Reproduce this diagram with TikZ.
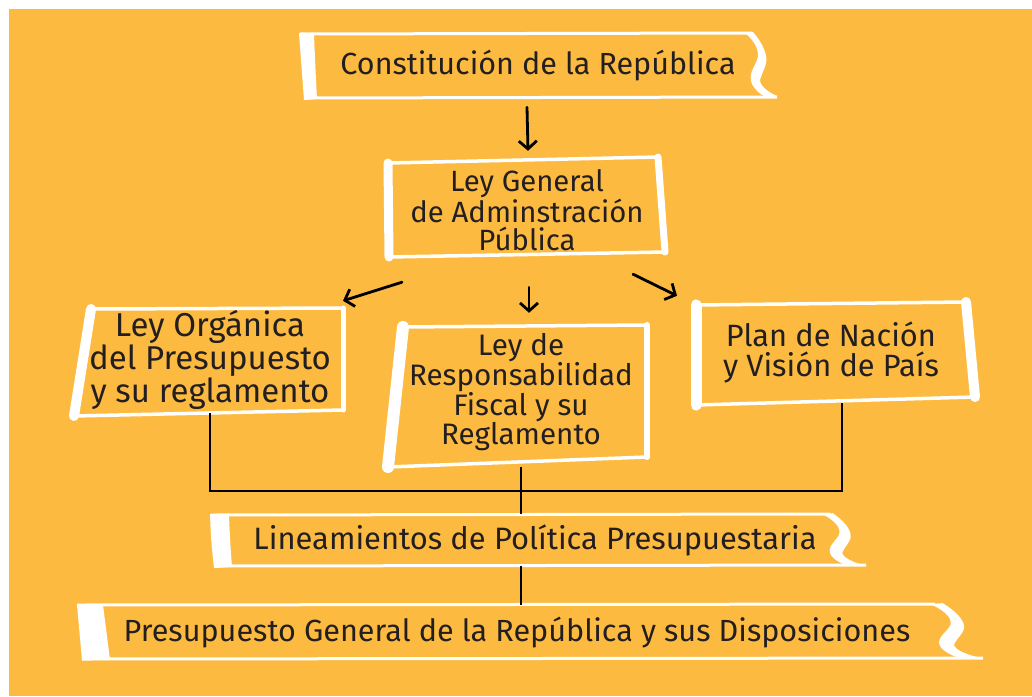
\documentclass[tikz,border=0pt]{standalone}
\usepackage{fontspec}
\setmainfont{Fira Sans}
\usetikzlibrary{shapes,arrows.meta,positioning}
\definecolor{paper}{RGB}{253,186,65}
\definecolor{ink}{RGB}{35,31,32}

\begin{document}
\begin{tikzpicture}[x=1pt,y=-1pt,
  law/.style={text=ink, align=center, inner sep=0pt, font=\fontsize{30.5}{30}\selectfont},
  rim/.style={draw=white, line width=3.5, line join=round},
  side/.style={draw=white, line width=9, line cap=round},
  pen/.style={line width=2.8, line cap=round, line join=round, -{Straight Barb[length=8pt,width=18pt]}},
  wire/.style={line width=2, black},
  curl/.pic={\fill[white] (0,0) .. controls (11,9) and (15,19) .. (12,27)
      .. controls (9,35) and (3,41) .. (7,51) .. controls (10,57) and (15,61) .. (19,63)
      -- (32,63) .. controls (23,59) and (15,53) .. (15,47)
      .. controls (17,39) and (23,31) .. (21,23) .. controls (19,13) and (13,5) .. (8,-1) -- cycle;}]
\useasboundingbox (0,0) rectangle (1032,696);
\fill[paper] (9,9) rectangle (1032,696);

%Nodes
\node[law, minimum height=66] (const) at (538,66) {Constitución de la República};
\node[law, minimum height=98, font=\fontsize{29.3}{28}\selectfont] (gen) at (527,210) {Ley General\\de Adminstración\\Pública};
\node[law, minimum height=106, font=\fontsize{33}{31}\selectfont] (org) at (210,360) {Ley Orgánica\\del Presupuesto\\y su reglamento};
\node[law, minimum height=150, font=\fontsize{29.6}{29}\selectfont] (res) at (521,392) {Ley de\\Responsabilidad\\Fiscal y su\\Reglamento};
\node[law, minimum height=102, font=\fontsize{30.8}{30}\selectfont] (plan) at (831,352) {Plan de Nación\\y Visión de País};
\node[law, minimum height=52, font=\fontsize{30.9}{30}\selectfont] (lin) at (535,540) {Lineamientos de Política Presupuestaria};
\node[law, minimum height=54, font=\fontsize{30.6}{30}\selectfont] (pres) at (517,632) {Presupuesto General de la República y sus Disposiciones};
\coordinate (bus) at (519,491);

%Frames
\draw[rim, line width=3] (300,34) -- (752,33) (304,98) -- (777,97);
\fill[white] (299,33) .. controls (301,60) .. (304,100) -- (317,99) .. controls (315,60) .. (314,34) -- cycle;
\pic at (745,33) {curl};
\draw[rim] (388,163) -- (658,157) -- (665,252) -- (389,257) -- cycle;
\draw[side] (388,163) -- (389,257);
\draw[side, line width=7] (658,157) -- (665,252);
\draw[rim] (91,309) -- (343,308) -- (343,410) -- (74,416) -- cycle;
\draw[side, line width=10] (91,309) -- (74,416);
\draw[side, line width=5] (343,308) -- (343,410);
\draw[rim] (403,327) -- (647,325) -- (647,457) -- (388,467) -- cycle;
\draw[side, line width=12] (403,327) -- (388,467);
\draw[side, line width=6] (647,325) -- (647,457);
\draw[rim] (696,305) -- (966,302) -- (975,397) -- (696,405) -- cycle;
\draw[side, line width=11] (696,305) -- (696,405);
\draw[side, line width=10] (966,302) -- (975,397);
\draw[rim, line width=3] (211,515) -- (830,514) (214,566) -- (866,565);
\fill[white] (210,514) .. controls (211,540) .. (214,568) -- (232,567) .. controls (230,540) .. (229,515) -- cycle;
\pic[xscale=1.35, yscale=0.82] at (822,514) {curl};
\draw[rim, line width=3] (77,605) -- (935,604) (82,659) -- (983,658);
\fill[white] (77,605) .. controls (79,632) .. (82,660) -- (110,660) .. controls (106,632) .. (103,605) -- cycle;
\pic[xscale=1.6, yscale=0.86] at (930,604) {curl};

%Connectors
\draw[pen] ([shift={(-11,8)}]const.south) -- ([shift={(1,-10)}]gen.north);
\draw[pen] ([shift={(-125,23)}]gen.south) -- ([shift={(133,-6)}]org.north);
\draw[pen] ([shift={(2,28)}]gen.south) -- ([shift={(8,-4)}]res.north);
\draw[pen] ([shift={(106,15)}]gen.south) -- ([shift={(-154,-5)}]plan.north);
\draw[wire] (org.south) |- (bus) -| ([xshift=11pt]plan.south);
\draw[wire] (res.south) -- (res.south |- lin.north);
\draw[wire] (res.south |- lin.south) -- (res.south |- pres.north);
\end{tikzpicture}
\end{document}
